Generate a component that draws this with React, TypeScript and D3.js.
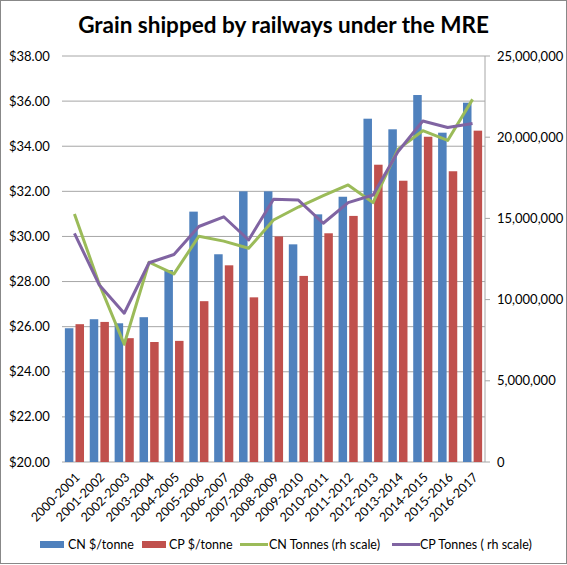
import * as d3 from "d3";

const seasons = [
  "2000-2001", "2001-2002", "2002-2003", "2003-2004", "2004-2005", "2005-2006",
  "2006-2007", "2007-2008", "2008-2009", "2009-2010", "2010-2011", "2011-2012",
  "2012-2013", "2013-2014", "2014-2015", "2015-2016", "2016-2017",
];

const cnRate = [25.93, 26.33, 26.15, 26.42, 28.51, 31.1, 29.21, 32.0, 32.0, 29.65, 30.98, 31.76, 35.22, 34.75, 36.27, 34.6, 35.93];
const cpRate = [26.11, 26.21, 25.49, 25.32, 25.37, 27.13, 28.72, 27.3, 30.0, 28.25, 30.14, 30.91, 33.18, 32.47, 34.42, 32.89, 34.69];

const cnTonnes = [15270000, 10950000, 7250000, 12300000, 11580000, 13900000, 13600000, 13160000, 14900000, 15700000, 16400000, 17060000, 15970000, 19250000, 20400000, 19800000, 22330000];
const cpTonnes = [14080000, 10900000, 9160000, 12270000, 12780000, 14500000, 15100000, 13670000, 16180000, 16130000, 14700000, 15970000, 16440000, 19100000, 21000000, 20600000, 20850000];

const leftTicks = [20, 22, 24, 26, 28, 30, 32, 34, 36, 38];
const rightTicks = [0, 5000000, 10000000, 15000000, 20000000, 25000000];

const W = 567;
const H = 565;
const margin = { top: 56, right: 82, bottom: 103, left: 62 };

const BLUE = "#4F81BD";
const RED = "#C0504D";
const GREEN = "#9BBB59";
const PURPLE = "#8064A2";
const GRID = "#A6A6A6";
const FONT = "Lato, 'Open Sans', sans-serif";

export default function App() {
  const x0 = margin.left;
  const x1 = W - margin.right;
  const yTop = margin.top;
  const yBot = H - margin.bottom;

  const x = d3.scaleBand().domain(seasons).range([x0, x1]).padding(0);
  const inner = d3
    .scaleBand()
    .domain(["cn", "cp"])
    .range([0, x.bandwidth()])
    .paddingInner(0.2)
    .paddingOuter(0.27);
  const yL = d3.scaleLinear().domain([20, 38]).range([yBot, yTop]);
  const yR = d3.scaleLinear().domain([0, 25000000]).range([yBot, yTop]);

  const cx = (s: string) => (x(s) ?? 0) + x.bandwidth() / 2;
  const line = d3
    .line<number>()
    .x((_, i) => cx(seasons[i]))
    .y((d) => yR(d));

  const fmtL = (v: number) => `$${v.toFixed(2)}`;
  const fmtR = d3.format(",");

  return (
    <div style={{ position: "absolute", left: 0, top: 0 }}>
      <svg width={W} height={H} style={{ display: "block", fontFamily: FONT }}>
        <rect x={0.5} y={0.5} width={W - 1} height={H - 2} fill="#fff" stroke="#888" />

        <text x={W / 2} y={33} textAnchor="middle" fontSize={22.5} fontWeight="bold" fill="#000">
          Grain shipped by railways under the MRE
        </text>

        {/* gridlines + left axis labels */}
        {leftTicks.map((t) => (
          <g key={t}>
            <line x1={x0} x2={x1} y1={yL(t)} y2={yL(t)} stroke={GRID} strokeWidth={1} />
            <text x={9} y={yL(t)} dy="0.35em" fontSize={13} fill="#000">
              {fmtL(t)}
            </text>
          </g>
        ))}

        {/* right axis */}
        <line x1={x1} x2={x1} y1={yTop} y2={yBot} stroke={GRID} />
        {rightTicks.map((t) => (
          <g key={t}>
            <line x1={x1} x2={x1 + 5} y1={yR(t)} y2={yR(t)} stroke={GRID} />
            <text x={497} y={yR(t)} dy="0.35em" fontSize={13} fill="#000">
              {fmtR(t)}
            </text>
          </g>
        ))}

        {/* bars */}
        {seasons.map((s, i) => (
          <g key={s}>
            <rect
              x={(x(s) ?? 0) + (inner("cn") ?? 0)}
              y={yL(cnRate[i])}
              width={inner.bandwidth()}
              height={yBot - yL(cnRate[i])}
              fill={BLUE}
            />
            <rect
              x={(x(s) ?? 0) + (inner("cp") ?? 0)}
              y={yL(cpRate[i])}
              width={inner.bandwidth()}
              height={yBot - yL(cpRate[i])}
              fill={RED}
            />
          </g>
        ))}

        {/* lines */}
        <path d={line(cnTonnes) ?? ""} fill="none" stroke={GREEN} strokeWidth={3} strokeLinejoin="round" />
        <path d={line(cpTonnes) ?? ""} fill="none" stroke={PURPLE} strokeWidth={3} strokeLinejoin="round" />

        {/* x labels */}
        {seasons.map((s) => (
          <text
            key={s}
            transform={`translate(${cx(s) + 3},${yBot + 13}) rotate(-45)`}
            textAnchor="end"
            dy="0.35em"
            fontSize={12.5}
            fill="#000"
          >
            {s}
          </text>
        ))}

        {/* legend */}
        <g fontSize={12.5} fill="#000">
          <rect x={40} y={541} width={24} height={7} fill={BLUE} />
          <text x={68} y={544.5} dy="0.35em">CN $/tonne</text>
          <rect x={142} y={541} width={24} height={7} fill={RED} />
          <text x={169} y={544.5} dy="0.35em">CP $/tonne</text>
          <line x1={240} x2={268} y1={544.5} y2={544.5} stroke={GREEN} strokeWidth={3} />
          <text x={269} y={544.5} dy="0.35em">CN Tonnes (rh scale)</text>
          <line x1={392} x2={420} y1={544.5} y2={544.5} stroke={PURPLE} strokeWidth={3} />
          <text x={420} y={544.5} dy="0.35em">CP Tonnes ( rh scale)</text>
        </g>
      </svg>
    </div>
  );
}
